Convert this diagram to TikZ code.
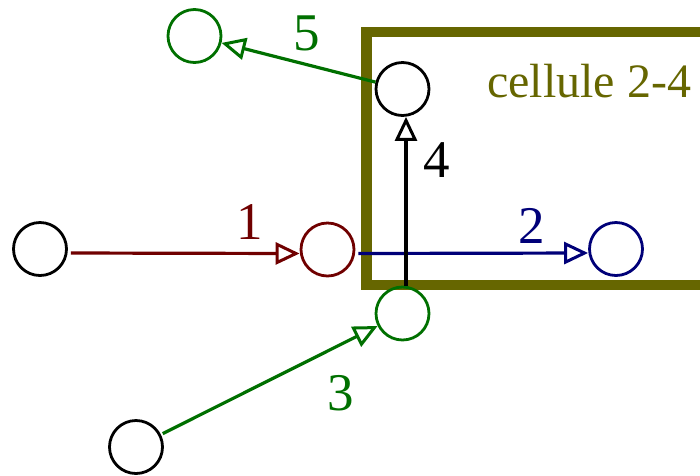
\documentclass[tikz,border=0pt]{standalone}
\usepackage{fontspec}
\setmainfont{Liberation Serif}
\usetikzlibrary{arrows.meta}
\definecolor{cred}{RGB}{112,0,0}
\definecolor{cblue}{RGB}{0,0,120}
\definecolor{cgreen}{RGB}{0,112,0}
\definecolor{colive}{RGB}{102,102,0}
\tikzset{
  circ/.style={circle,draw,line width=2.8pt,minimum size=53pt,inner sep=0pt},
  arr/.style={line width=3.2pt,-{Triangle[open,length=24pt,width=22pt,line width=3pt]}},
  lab/.style={inner sep=0pt,font=\fontsize{53}{53}\selectfont},
}
\begin{document}
\begin{tikzpicture}[x=1pt,y=-1pt]
\useasboundingbox (0,0) rectangle (700,475);
\clip (0,0) rectangle (700,475);
% cell box
\draw[colive,line width=10.5pt] (720,32) -- (366.5,32) -- (366.5,285) -- (720,285);
\node[inner sep=0pt,text=colive,font=\fontsize{48}{48}\selectfont] (cell) at (589,81.5) {cellule 2-4};
% circles
\node[circ,draw=black] (l) at (40,249) {};
\node[circ,draw=cred] (r) at (327.5,249.5) {};
\node[circ,draw=cblue] (b) at (616,249) {};
\node[circ,draw=cgreen] (g) at (402.5,313.5) {};
\node[circ,draw=black] (bb) at (136,447) {};
\node[circ,draw=black] (t) at (402.5,89) {};
\node[circ,draw=cgreen] (gt) at (194.5,36) {};
% arrows
\draw[arr,cred,shorten <=3pt] ([yshift=-4pt]l.east) -- ([yshift=-4pt]r.west);
\draw[arr,cblue,shorten <=3pt] ([yshift=-4pt]r.east) -- ([yshift=-4pt]b.west);
\draw[arr,cgreen,shorten <=2pt] (bb) -- (g);
\draw[arr,black] ([xshift=3.5pt]g.north) -- ([xshift=3.5pt]t.south);
\draw[arr,cgreen] (t) -- (gt);
% labels
\node[lab,text=cred] (n1) at (250,222) {1};
\node[lab,text=cblue] (n2) at (532,226) {2};
\node[lab,text=cgreen] (n3) at (341,393) {3};
\node[lab,text=black] (n4) at (437,160) {4};
\node[lab,text=cgreen] (n5) at (307,33) {5};
\end{tikzpicture}
\end{document}
